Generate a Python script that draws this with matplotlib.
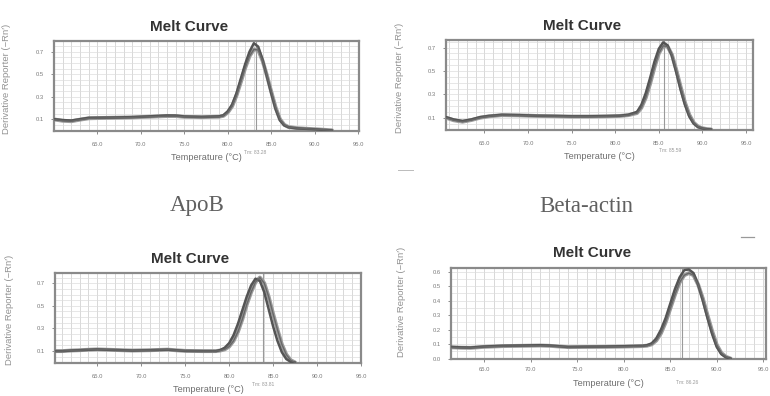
import matplotlib
matplotlib.use("Agg")
import matplotlib.pyplot as plt
from matplotlib.lines import Line2D
import numpy as np

W, H = 770, 396

# ---------------- data ----------------
# Panel 1 (top-left, ApoB)
temp_apob = [60, 61, 62, 63, 64, 65, 67, 69, 71, 73, 74, 75, 77, 79, 79.5, 80, 80.5,
             81, 81.5, 82, 82.5, 83, 83.5, 84, 84.5, 85, 85.5, 86, 86.5, 87, 88, 89,
             90, 91, 92]
apob_rep1 = [0.100, 0.092, 0.088, 0.100, 0.112, 0.113, 0.115, 0.118, 0.125, 0.133, 0.132,
             0.124, 0.120, 0.125, 0.135, 0.170, 0.230, 0.330, 0.460, 0.590, 0.700, 0.775,
             0.745, 0.630, 0.480, 0.330, 0.190, 0.090, 0.045, 0.028, 0.018, 0.014, 0.010,
             0.005, 0.000]
apob_rep2 = [0.098, 0.086, 0.082, 0.096, 0.108, 0.110, 0.113, 0.116, 0.122, 0.128, 0.128,
             0.121, 0.118, 0.122, 0.130, 0.160, 0.215, 0.310, 0.430, 0.555, 0.660, 0.720,
             0.715, 0.620, 0.490, 0.345, 0.205, 0.100, 0.050, 0.030, 0.020, 0.015, 0.011,
             0.006, 0.001]
tm_apob = 83.28

# Panel 2 (top-right, Beta-actin)
temp_actin = [60.6, 61.5, 62.5, 63.5, 64.5, 65.5, 67, 69, 71, 73, 75, 77, 79, 80.5, 81.5,
              82.5, 83, 83.5, 84, 84.5, 85, 85.5, 86, 86.5, 87, 87.5, 88, 88.5, 89, 89.5,
              90, 90.5, 91]
actin_rep1 = [0.105, 0.085, 0.072, 0.085, 0.105, 0.115, 0.125, 0.122, 0.117, 0.115, 0.112,
              0.112, 0.114, 0.117, 0.125, 0.150, 0.210, 0.310, 0.440, 0.580, 0.690, 0.745,
              0.720, 0.630, 0.490, 0.340, 0.210, 0.110, 0.050, 0.020, 0.008, 0.002, 0.000]
actin_rep2 = [0.100, 0.078, 0.066, 0.080, 0.100, 0.112, 0.122, 0.120, 0.115, 0.113, 0.110,
              0.110, 0.112, 0.115, 0.122, 0.140, 0.185, 0.270, 0.390, 0.530, 0.650, 0.715,
              0.710, 0.640, 0.510, 0.365, 0.230, 0.125, 0.058, 0.024, 0.010, 0.003, 0.000]
tm_actin = 85.59

# Panel 3 (bottom-left)
temp_gene3 = [60.2, 61, 62, 63, 64, 65, 67, 69, 71, 73, 75, 77, 78.5, 79, 79.5, 80, 80.5,
              81, 81.5, 82, 82.5, 83, 83.5, 84, 84.5, 85, 85.5, 86, 86.5, 87, 87.5]
gene3_rep1 = [0.100, 0.100, 0.105, 0.108, 0.112, 0.115, 0.110, 0.105, 0.108, 0.113, 0.102,
              0.100, 0.100, 0.110, 0.130, 0.170, 0.240, 0.340, 0.460, 0.580, 0.680, 0.740,
              0.720, 0.620, 0.470, 0.320, 0.190, 0.090, 0.030, 0.005, 0.000]
gene3_rep2 = [0.100, 0.100, 0.105, 0.108, 0.112, 0.115, 0.110, 0.105, 0.108, 0.113, 0.102,
              0.100, 0.100, 0.105, 0.115, 0.140, 0.190, 0.270, 0.380, 0.510, 0.620, 0.710,
              0.750, 0.700, 0.580, 0.430, 0.290, 0.160, 0.070, 0.020, 0.000]
tm_gene3 = 83.81

# Panel 4 (bottom-right)
temp_gene4 = [61.4, 62.5, 63.5, 65, 67, 69, 71, 72, 74, 76, 78, 80, 82, 82.5, 83, 83.5, 84,
              84.5, 85, 85.5, 86, 86.5, 87, 87.5, 88, 88.5, 89, 89.5, 90, 90.5, 91, 91.5]
gene4_rep1 = [0.080, 0.077, 0.076, 0.083, 0.088, 0.090, 0.092, 0.090, 0.080, 0.082, 0.083,
              0.085, 0.088, 0.092, 0.105, 0.140, 0.200, 0.280, 0.380, 0.480, 0.560, 0.610,
              0.615, 0.590, 0.510, 0.400, 0.280, 0.170, 0.080, 0.030, 0.008, 0.000]
gene4_rep2 = [0.078, 0.075, 0.074, 0.081, 0.086, 0.088, 0.090, 0.088, 0.079, 0.080, 0.081,
              0.083, 0.086, 0.089, 0.098, 0.125, 0.175, 0.250, 0.345, 0.440, 0.525, 0.575,
              0.590, 0.575, 0.510, 0.415, 0.300, 0.190, 0.095, 0.038, 0.012, 0.000]
tm_gene4 = 86.26

x_ticks = [65, 70, 75, 80, 85, 90, 95]
y_ticks_a = [0.1, 0.3, 0.5, 0.7]
y_ticks_b = [0.0, 0.1, 0.2, 0.3, 0.4, 0.5, 0.6]

title_text = "Melt Curve"
ylabel_text = "Derivative Reporter (\u2212Rn\u2032)"
xlabel_text = "Temperature (\u00b0C)"
caption_left = "ApoB"
caption_right = "Beta-actin"

# ---------------- layout ----------------
plt.rcParams['font.family'] = ['Liberation Sans', 'DejaVu Sans']
fig = plt.figure(figsize=(W / 100, H / 100), dpi=100)
fig.patch.set_facecolor('white')


def fx(px):
    return px / W


def fy(py):
    return 1 - py / H


panels = [
    dict(box=(54, 41, 359, 131), xlim=(60.0, 95.1), ylim=(-0.005, 0.795),
         T=temp_apob, reps=(apob_rep1, apob_rep2), tm=tm_apob, yt=y_ticks_a,
         title=(189, 27), ylab=(7, 79), xlab=158, tml=(255, 152), xpad=6),
    dict(box=(446, 40, 753, 130), xlim=(60.6, 95.8), ylim=(-0.005, 0.765),
         T=temp_actin, reps=(actin_rep1, actin_rep2), tm=tm_actin, yt=y_ticks_a,
         title=(582, 26), ylab=(400, 78), xlab=157, tml=(670, 151), xpad=6),
    dict(box=(55, 273, 361, 363), xlim=(60.2, 95.0), ylim=(-0.005, 0.79),
         T=temp_gene3, reps=(gene3_rep1, gene3_rep2), tm=tm_gene3, yt=y_ticks_a,
         title=(190, 259), ylab=(10, 310), xlab=390, tml=(263, 384), xpad=6),
    dict(box=(451, 268, 766, 359), xlim=(61.4, 95.3), ylim=(-0.003, 0.625),
         T=temp_gene4, reps=(gene4_rep1, gene4_rep2), tm=tm_gene4, yt=y_ticks_b,
         title=(592, 253), ylab=(402, 302), xlab=384, tml=(687, 382), xpad=4),
]

for p in panels:
    l, t, r, b = p['box']
    ax = fig.add_axes([fx(l), fy(b), (r - l) / W, (b - t) / H])
    ax.set_facecolor('white')
    ax.set_xlim(*p['xlim'])
    ax.set_ylim(*p['ylim'])
    # dense instrument grid
    for xv in np.arange(np.ceil(p['xlim'][0]), p['xlim'][1], 1.0):
        ax.axvline(xv, color='#d2d2d2', lw=0.6, zorder=0)
    for yv in np.arange(0.0, p['ylim'][1], 0.05):
        ax.axhline(yv, color='#dddddd', lw=0.5, zorder=0)
    # Tm marker line
    ax.axvline(p['tm'], color='#9a9a9a', lw=0.8, zorder=1)
    # replicate curves
    rep1, rep2 = p['reps']
    ax.plot(p['T'], rep2, color='#9b9b9b', lw=2.8, zorder=2, solid_capstyle='round')
    ax.plot(p['T'], rep1, color='#545454', lw=1.8, zorder=3, solid_capstyle='round')
    ax.plot(p['T'], rep2, color='#686868', lw=1.0, zorder=3)

    ax.set_xticks(x_ticks)
    ax.set_xticklabels([f"{v:.1f}" for v in x_ticks])
    ax.set_yticks(p['yt'])
    ax.set_yticklabels([f"{v:.1f}" for v in p['yt']])
    ax.tick_params(axis='both', labelsize=4.2, colors='#7a7a7a', length=2, width=0.6)
    ax.tick_params(axis='x', pad=p['xpad'])
    ax.tick_params(axis='y', pad=5)
    for s in ax.spines.values():
        s.set_color('#8a8a8a')
        s.set_linewidth(1.6)

    fig.text(fx(p['ylab'][0]), fy(p['ylab'][1]), ylabel_text, rotation=90,
             ha='center', va='center', fontsize=6.8, color='#929292')
    fig.text(fx((l + r) / 2), fy(p['xlab']), xlabel_text, ha='center', va='center',
             fontsize=6.6, color='#6e6e6e')
    fig.text(fx(p['tml'][0]), fy(p['tml'][1]), f"Tm: {p['tm']:.2f}", ha='center',
             va='center', fontsize=3.6, color='#9a9a9a')
    fig.text(fx(p['title'][0]), fy(p['title'][1]), title_text, ha='center', va='center',
             fontsize=11, fontweight='bold', color='#333333')

fig.text(fx(197), fy(206), caption_left, ha='center', va='center', fontsize=16.5,
         color='#606060', family=['Liberation Serif', 'DejaVu Serif'])
fig.text(fx(586), fy(206), caption_right, ha='center', va='center', fontsize=16.5,
         color='#606060', family=['Liberation Serif', 'DejaVu Serif'])

# small stray dashes visible in the scanned figure
fig.add_artist(Line2D([fx(741), fx(754)], [fy(237), fy(237)], color='#999999', lw=0.9))
fig.add_artist(Line2D([fx(398), fx(413)], [fy(170), fy(170)], color='#bbbbbb', lw=0.7))

fig.savefig("out.png", dpi=100, facecolor='white')
